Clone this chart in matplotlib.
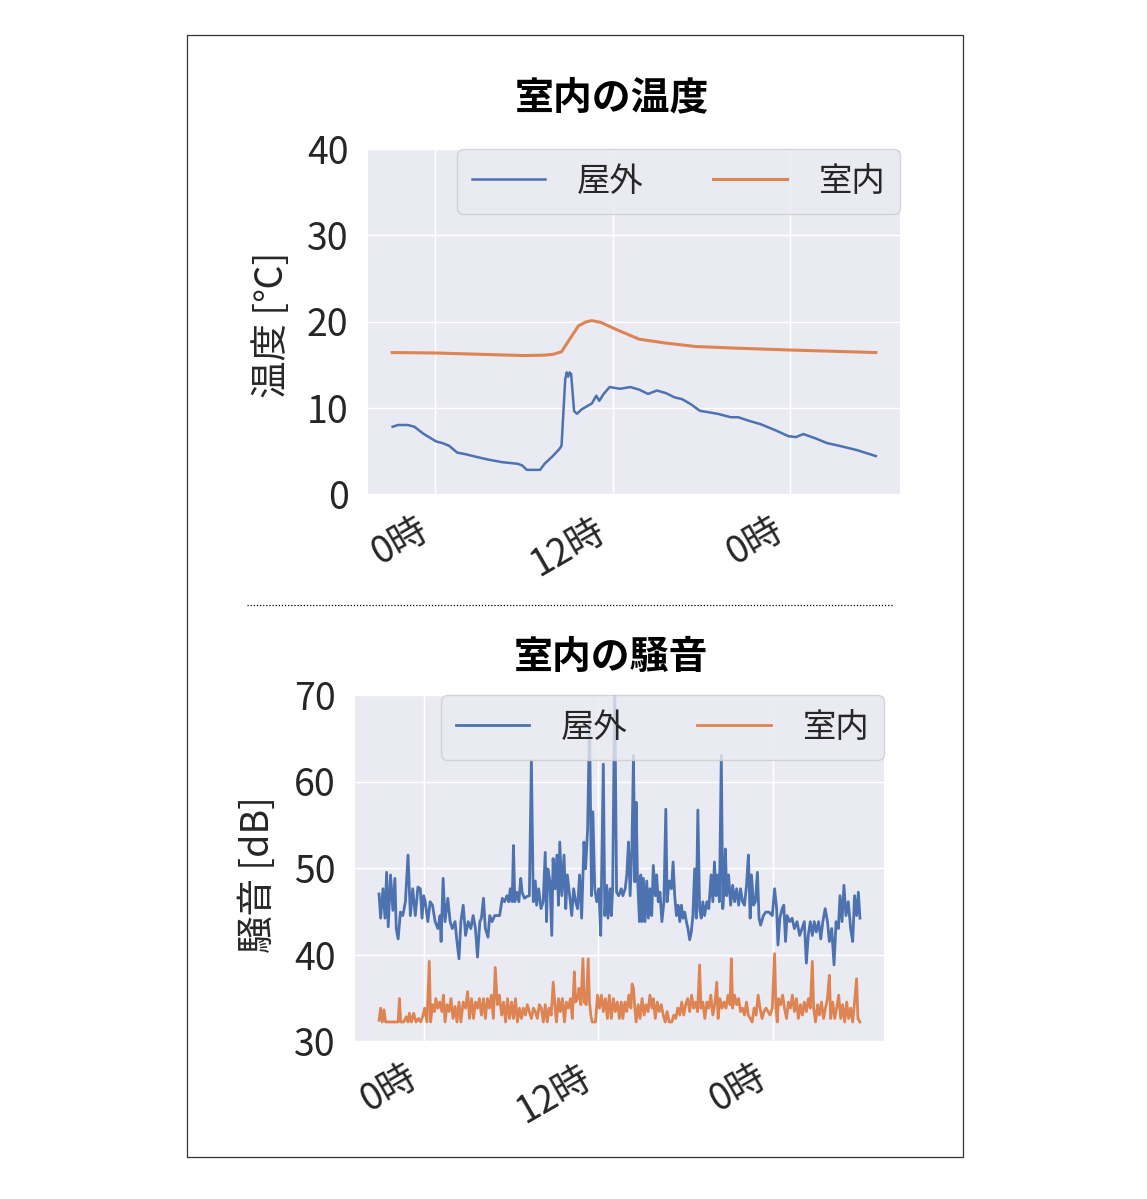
import matplotlib
matplotlib.use("Agg")
import matplotlib.pyplot as plt
from matplotlib.patches import Rectangle
from matplotlib.lines import Line2D

plt.rcParams['font.family'] = ['Noto Sans CJK JP', 'DejaVu Sans']

BLUE = '#4C72B0'
ORANGE = '#DD8452'
TXT = '#262626'
AXBG = '#EAEAF2'

# x axis: hours from midnight of the first day
tick_hours = [0, 12, 24]
tick_labels = ['0時', '12時', '0時']
series_names = ['屋外', '室内']

# ---- temperature ----
temp_out_h = [-2.87, -2.5, -1.84, -1.4, -0.8, 0.06, 0.5, 0.94, 1.5, 2.1, 2.8, 3.57, 4.5,
              5.6, 5.9, 6.2, 7.1, 7.4, 7.9, 8.4, 8.55, 8.8, 8.9, 9.0, 9.1, 9.2, 9.4, 9.6,
              9.9, 10.3, 10.6, 10.9, 11.1, 11.4, 11.8, 12.5, 13.2, 13.8, 14.4, 15.0, 15.6,
              16.2, 16.7, 17.3, 17.9, 19.1, 20.0, 20.5, 21.2, 22.0, 23.0, 23.9, 24.4, 24.9,
              25.8, 26.5, 27.3, 28.5, 29.8]
temp_out = [7.8, 8.0, 8.0, 7.8, 7.0, 6.1, 5.9, 5.6, 4.8, 4.6, 4.3, 4.0, 3.7,
            3.5, 3.3, 2.8, 2.8, 3.5, 4.3, 5.2, 5.6, 13.3, 14.1, 13.6, 14.1, 13.9, 9.6, 9.3,
            9.8, 10.2, 10.5, 11.4, 10.8, 11.6, 12.4, 12.2, 12.4, 12.1, 11.6, 12.0, 11.7,
            11.2, 11.0, 10.4, 9.65, 9.3, 8.9, 8.9, 8.5, 8.1, 7.4, 6.7, 6.6, 6.95,
            6.4, 5.9, 5.6, 5.1, 4.4]

temp_in_h = [-2.9, 0, 3, 6, 7.4, 8.0, 8.55, 9.1, 9.7, 10.2, 10.6, 11.2, 12.35, 13.8,
             15.6, 17.6, 20.5, 23.9, 29.8]
temp_in = [16.4, 16.35, 16.2, 16.05, 16.1, 16.2, 16.5, 17.95, 19.5, 19.95, 20.1, 19.9,
           19.0, 17.95, 17.5, 17.1, 16.9, 16.7, 16.4]

# ---- noise ----
noise_out_h = [
    -3.06, -2.95, -2.79, -2.65, -2.54, -2.43, -2.27, -2.11, -1.97, -1.88, -1.75, -1.59,
    -1.43, -1.25, -1.07, -0.91, -0.75, -0.57, -0.39, -0.23, -0.11, 0.00, 0.11, 0.29,
    0.45, 0.61, 0.79, 0.98, 1.13, 1.20, 1.34, 1.47, 1.66, 1.82, 1.97, 2.16, 2.27, 2.43,
    2.56, 2.72, 2.88, 3.06, 3.24, 3.40, 3.56, 3.70, 3.86, 3.97, 4.11, 4.24, 4.42, 4.54,
    4.70, 4.88, 5.11, 5.22, 5.40, 5.56, 5.72, 5.85, 5.95, 6.08, 6.17, 6.26, 6.40, 6.54,
    6.67, 6.76, 6.92, 7.08, 7.26, 7.40, 7.53, 7.67, 7.76, 7.90, 8.06, 8.21, 8.35, 8.44,
    8.53, 8.67, 8.80, 8.89, 9.03, 9.15, 9.26, 9.35, 9.49, 9.64, 9.76, 9.87, 10.03, 10.17,
    10.30, 10.44, 10.57, 10.71, 10.85, 11.01, 11.12, 11.26, 11.39, 11.53, 11.62, 11.75,
    11.89, 12.03, 12.16, 12.25, 12.34, 12.44, 12.57, 12.66, 12.80, 12.89, 12.98, 13.12,
    13.25, 13.39, 13.57, 13.68, 13.84, 13.95, 14.07, 14.18, 14.30, 14.41, 14.50, 14.59,
    14.68, 14.82, 14.91, 15.00, 15.09, 15.20, 15.32, 15.43, 15.54, 15.66, 15.77, 15.91,
    16.00, 16.11, 16.23, 16.36, 16.50, 16.63, 16.72, 16.86, 17.02, 17.13, 17.24, 17.36,
    17.47, 17.59, 17.70, 17.81, 17.93, 18.04, 18.15, 18.27, 18.38, 18.49, 18.61, 18.72,
    18.83, 18.95, 19.06, 19.17, 19.29, 19.45, 19.58, 19.74, 19.86, 19.97, 20.08, 20.19,
    20.31, 20.44, 20.54, 20.63, 20.72, 20.81, 20.94, 21.08, 21.22, 21.35, 21.49, 21.63,
    21.76, 21.90, 22.03, 22.17, 22.30, 22.42, 22.51, 22.65, 22.78, 22.92, 23.03, 23.14,
    23.33, 23.49, 23.71, 23.94, 24.10, 24.24, 24.33, 24.46, 24.62, 24.73, 24.85, 24.96,
    25.14, 25.30, 25.46, 25.64, 25.82, 25.98, 26.14, 26.28, 26.41, 26.55, 26.69, 26.82,
    26.96, 27.12, 27.27, 27.41, 27.57, 27.73, 27.86, 28.02, 28.18, 28.32, 28.48, 28.59,
    28.73, 28.86, 29.00, 29.16, 29.32, 29.46, 29.59, 29.73, 29.85, 29.96]
noise_out = [
    47.0, 44.2, 47.6, 44.2, 49.5, 43.2, 49.2, 45.1, 48.8, 43.0, 41.8, 44.9,
    44.5, 46.1, 51.5, 44.5, 47.6, 44.5, 47.8, 47.6, 44.2, 46.8, 46.1, 43.8,
    46.1, 45.7, 43.8, 43.0, 44.5, 41.5, 48.8, 43.8, 46.5, 43.8, 43.0, 43.8, 41.8, 39.5,
    43.8, 45.7, 42.2, 43.8, 43.0, 44.5, 43.0, 39.7, 43.8, 44.2, 46.5, 43.0, 42.0, 44.5,
    43.8, 44.5, 44.5, 44.5, 46.5, 46.1, 46.8, 46.1, 47.6, 46.1, 52.6, 46.1, 47.2, 46.1,
    48.8, 47.2, 46.5, 46.7, 46.8, 62.4, 46.1, 48.5, 45.7, 47.6, 45.3, 46.1, 51.8, 43.8,
    49.9, 48.5, 42.2, 51.1, 47.6, 51.5, 45.7, 53.0, 46.8, 51.5, 45.3, 49.2, 46.8, 44.5,
    47.6, 46.1, 45.3, 49.2, 44.2, 53.0, 49.9, 54.5, 67.0, 46.8, 56.5, 47.6,
    46.1, 47.6, 42.2, 52.2, 62.0, 44.5, 48.0, 44.2, 47.6, 44.5, 47.6, 71.0,
    47.2, 46.8, 47.6, 46.8, 47.6, 49.2, 53.0, 46.8, 52.2, 63.0, 48.4, 57.6,
    49.2, 43.8, 49.2, 43.8, 48.8, 43.8, 48.5, 44.2, 47.6, 44.5, 50.3, 46.8,
    49.2, 46.1, 47.2, 43.8, 46.1, 56.8, 46.1, 48.5, 47.6, 50.7, 46.8, 44.5,
    45.7, 43.8, 45.7, 44.2, 44.9, 43.8, 43.0, 41.7, 42.6, 44.5, 49.9, 44.2,
    56.7, 45.3, 44.2, 46.1, 44.5, 46.1, 45.3, 49.2, 46.1, 50.7, 46.8, 49.2,
    46.1, 63.0, 45.3, 47.6, 52.2, 46.8, 49.2, 45.7, 48.0, 46.1, 47.6, 45.7,
    47.6, 46.1, 45.7, 48.0, 51.5, 44.2, 49.2, 45.7, 46.1, 49.5, 44.2, 43.4,
    44.5, 44.9, 44.9, 44.5, 47.6, 45.3, 41.1, 44.2, 45.3, 45.7, 41.5, 44.5,
    43.8, 44.2, 43.0, 43.8, 42.2, 43.0, 43.8, 39.0, 42.2, 43.8, 42.2, 43.8,
    42.6, 43.8, 41.8, 43.8, 45.3, 43.8, 41.5, 43.0, 38.8, 43.8, 43.0, 46.8,
    43.8, 48.0, 44.5, 46.1, 43.0, 41.5, 46.8, 44.5, 47.2, 44.2]

noise_in_h = [
    -3.06, -2.95, -2.84, -2.72, -2.61, -2.38, -2.16, -1.88, -1.75, -1.66, -1.57, -1.36,
    -1.20, -1.07, -0.98, -0.84, -0.68, -0.52, -0.34, -0.20, -0.07, 0.07, 0.23, 0.39,
    0.48, 0.61, 0.75, 0.84, 0.98, 1.11, 1.25, 1.36, 1.47, 1.61, 1.75, 1.88, 2.02, 2.16,
    2.29, 2.43, 2.56, 2.72, 2.88, 3.02, 3.15, 3.29, 3.43, 3.56, 3.70, 3.83, 3.97, 4.11,
    4.24, 4.38, 4.52, 4.65, 4.79, 4.92, 5.06, 5.20, 5.36, 5.49, 5.63, 5.76, 5.90, 6.04,
    6.17, 6.31, 6.44, 6.58, 6.72, 6.85, 6.99, 7.12, 7.26, 7.40, 7.54, 7.67, 7.81, 7.94,
    8.08, 8.22, 8.35, 8.49, 8.62, 8.76, 8.90, 9.03, 9.12, 9.26, 9.39, 9.53, 9.67, 9.80,
    9.94, 10.08, 10.21, 10.35, 10.44, 10.57, 10.67, 10.80, 10.94, 11.03, 11.17, 11.30,
    11.39, 11.48, 11.57, 11.71, 11.80, 11.94, 12.07, 12.21, 12.34, 12.48, 12.62, 12.75,
    12.89, 13.03, 13.16, 13.30, 13.44, 13.57, 13.68, 13.82, 13.95, 14.09, 14.23, 14.32,
    14.41, 14.50, 14.59, 14.73, 14.86, 15.00, 15.14, 15.27, 15.41, 15.54, 15.68, 15.77,
    15.91, 16.04, 16.18, 16.32, 16.45, 16.59, 16.72, 16.86, 17.04, 17.18, 17.31, 17.45,
    17.59, 17.72, 17.86, 17.99, 18.13, 18.27, 18.40, 18.54, 18.68, 18.81, 18.95, 19.04,
    19.17, 19.31, 19.45, 19.58, 19.72, 19.86, 19.99, 20.13, 20.22, 20.35, 20.49, 20.63,
    20.76, 20.90, 21.04, 21.13, 21.22, 21.35, 21.49, 21.63, 21.76, 21.90, 22.03, 22.17,
    22.30, 22.42, 22.56, 22.69, 22.83, 22.97, 23.10, 23.24, 23.37, 23.51, 23.65, 23.78,
    23.94, 24.10, 24.19, 24.28, 24.37, 24.51, 24.65, 24.78, 24.92, 25.05, 25.19, 25.32,
    25.46, 25.60, 25.73, 25.87, 26.01, 26.14, 26.28, 26.42, 26.55, 26.69, 26.78, 26.91,
    27.05, 27.18, 27.32, 27.46, 27.59, 27.73, 27.86, 27.95, 28.09, 28.23, 28.36, 28.50,
    28.64, 28.77, 28.91, 29.05, 29.18, 29.32, 29.46, 29.59, 29.73, 29.82, 29.96]
noise_in = [
    32.4, 33.8, 32.2, 33.6, 32.2, 32.2, 32.2, 32.2, 32.2, 34.9, 32.2, 32.2,
    32.8, 32.2, 33.2, 32.2, 33.2, 32.2, 32.6, 32.2, 32.8, 33.8, 32.2, 39.2,
    32.2, 34.2, 33.4, 34.9, 33.8, 34.5, 33.4, 35.3, 32.2, 34.2, 33.4, 34.9, 32.6, 34.0,
    32.2, 34.5, 32.2, 34.5, 33.8, 35.7, 32.6, 34.9, 32.6, 34.5, 33.8, 34.9, 33.0, 34.9,
    32.6, 34.9, 33.8, 35.3, 32.6, 38.5, 34.2, 35.3, 33.0, 34.5, 32.2, 34.9, 32.6, 34.5,
    32.6, 34.9, 32.2, 33.8, 32.6, 33.8, 33.0, 34.2, 33.4, 32.6, 33.8, 33.4, 32.6, 34.2,
    33.8, 32.2, 34.2, 32.2, 33.8, 33.0, 36.8, 33.8, 32.2, 34.9, 33.4, 34.9, 32.2, 34.5,
    33.8, 34.9, 32.6, 38.0, 34.5, 34.9, 36.1, 34.2, 39.5, 34.5, 34.2, 39.5,
    34.5, 33.0, 32.2, 32.2, 32.2, 35.3, 33.8, 35.3, 33.4, 34.9, 32.6, 35.3,
    32.6, 34.9, 33.4, 34.5, 32.6, 34.5, 32.6, 34.5, 33.4, 35.3, 33.8, 36.6,
    36.1, 33.8, 32.2, 34.2, 32.6, 34.9, 33.0, 34.2, 33.4, 35.3, 33.8, 34.9,
    32.6, 34.5, 33.4, 34.2, 33.0, 32.2, 33.4, 32.2, 32.2, 33.0, 32.6, 33.8,
    33.0, 34.5, 33.0, 34.2, 34.9, 33.4, 35.3, 33.8, 34.5, 33.4, 38.8, 33.8,
    34.5, 32.6, 34.5, 33.8, 35.3, 33.0, 34.2, 36.8, 32.6, 34.9, 33.8, 34.5,
    33.8, 35.3, 34.2, 39.5, 33.8, 35.3, 34.2, 34.9, 33.4, 33.8, 33.0, 34.5,
    33.0, 32.6, 32.2, 33.8, 33.0, 35.3, 33.8, 32.6, 33.4, 33.8, 33.4, 33.0,
    33.8, 40.1, 33.8, 32.2, 34.9, 34.2, 35.3, 33.8, 32.6, 34.5, 33.8, 35.3,
    33.4, 34.9, 32.6, 34.2, 33.0, 34.5, 33.4, 34.9, 33.8, 39.2, 33.8, 32.2,
    34.2, 33.0, 34.5, 32.6, 33.8, 34.9, 37.6, 32.6, 34.5, 32.6, 33.8, 35.3,
    32.6, 34.2, 32.2, 34.5, 32.6, 33.8, 32.2, 34.5, 37.2, 32.6, 32.2]

W, H = 1147, 1199
fig = plt.figure(figsize=(W / 100, H / 100), dpi=100)

# page frame and separator
fig.add_artist(Rectangle((187 / W, 1 - 1157 / H), 776 / W, 1122 / H, transform=fig.transFigure,
                         fill=False, edgecolor='#333333', linewidth=0.9))
fig.add_artist(Line2D([247 / W, 893 / W], [1 - 605 / H, 1 - 605 / H], transform=fig.transFigure,
                      color='black', linewidth=0.9, linestyle=(0, (1, 1.5))))


def style_axes(ax, ylim, yticks):
    ax.set_facecolor(AXBG)
    for s in ax.spines.values():
        s.set_visible(False)
    ax.grid(True, color='white', linewidth=1.0)
    ax.set_axisbelow(True)
    ax.set_ylim(ylim)
    ax.set_yticks(yticks)
    ax.set_xticks(tick_hours)
    ax.set_xticklabels(tick_labels, rotation=30, ha='right')
    ax.tick_params(axis='both', length=0, labelsize=27, colors=TXT)
    ax.tick_params(axis='y', pad=14)
    ax.tick_params(axis='x', pad=12)
    leg = ax.legend(loc='upper right', ncol=2, fontsize=24, borderaxespad=0,
                    handlelength=2.2, handletextpad=0.95, columnspacing=2.1,
                    borderpad=0.45, fancybox=True, facecolor=AXBG, edgecolor='#CCCCCC',
                    framealpha=0.8)
    for t in leg.get_texts():
        t.set_color(TXT)


# top: temperature
ax1 = fig.add_axes([368 / W, 1 - 494 / H, 532 / W, 345 / H])
ax1.plot(temp_out_h, temp_out, color=BLUE, linewidth=1.8, label=series_names[0])
ax1.plot(temp_in_h, temp_in, color=ORANGE, linewidth=2.2, label=series_names[1])
style_axes(ax1, (0, 40), [0, 10, 20, 30, 40])
ax1.set_ylabel('温度 [℃]', fontsize=27, color=TXT)
ax1.yaxis.set_label_coords(-0.143, 0.49)
fig.text(612 / W, 1 - 98 / H, '室内の温度', fontsize=28, fontweight='bold',
         ha='center', va='center', color='black')

# bottom: noise
ax2 = fig.add_axes([355 / W, 1 - 1041 / H, 529 / W, 346 / H])
ax2.plot(noise_out_h, noise_out, color=BLUE, linewidth=2.0, label=series_names[0])
ax2.plot(noise_in_h, noise_in, color=ORANGE, linewidth=2.0, label=series_names[1])
style_axes(ax2, (30, 70), [30, 40, 50, 60, 70])
ax2.set_ylabel('騒音 [dB]', fontsize=27, color=TXT)
ax2.yaxis.set_label_coords(-0.146, 0.48)
fig.text(611 / W, 1 - 657 / H, '室内の騒音', fontsize=28, fontweight='bold',
         ha='center', va='center', color='black')

fig.savefig('out.png', dpi=100, facecolor='white')
